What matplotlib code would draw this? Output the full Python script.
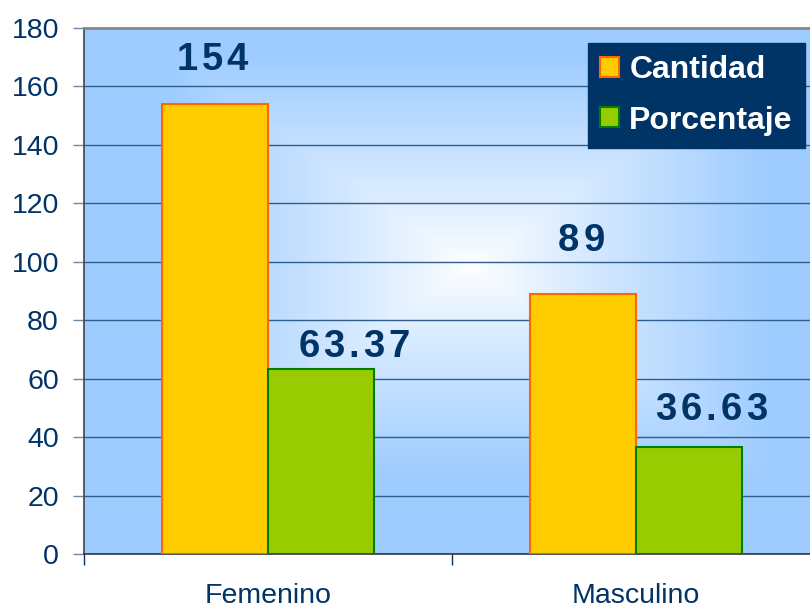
import numpy as np
import matplotlib
matplotlib.use("Agg")
import matplotlib.pyplot as plt
from matplotlib.patches import Patch
from matplotlib.font_manager import FontProperties, findfont
from matplotlib.ft2font import FT2Font

# ---- data ----
categories = ["Femenino", "Masculino"]
series_names = ["Cantidad", "Porcentaje"]
cantidad = [154, 89]
porcentaje = [63.37, 36.63]
label_cantidad = ["154", "89"]
label_porcentaje = ["63.37", "36.63"]
yticks = [0, 20, 40, 60, 80, 100, 120, 140, 160, 180]

# ---- style ----
NAVY = "#003366"
DPI = 100
fig = plt.figure(figsize=(8.10, 6.12), dpi=DPI)
fig.patch.set_facecolor("white")
ax = fig.add_axes([84/810, 58/612, 736/810, 526/612])

# background gradient (rectangular, from centre)
H, W = 526, 736
yy, xx = np.mgrid[0:H, 0:W]
cx, cy = 470 - 84, 265 - 28
rx, ry = 300.0, 210.0
t = np.maximum(np.abs(xx - cx) / rx, np.abs(yy - cy) / ry)
t = np.clip(t, 0, 1) ** 0.9
edge = np.array([158, 204, 255]) / 255.0
centre = np.array([1.0, 1.0, 1.0])
img = centre[None, None, :] * (1 - t[..., None]) + edge[None, None, :] * t[..., None]
ax.imshow(img, extent=(0, 1, 0, 1), transform=ax.transAxes, aspect="auto",
          zorder=0, interpolation="bilinear")

x = np.arange(len(categories))
w = 0.288
ax.bar(x - w/2, cantidad, w, color="#FFCC00", edgecolor="#FF6600", linewidth=1.5, zorder=3)
ax.bar(x + w/2, porcentaje, w, color="#99CC00", edgecolor="#008000", linewidth=1.5, zorder=3)

ax.set_xlim(-0.5, 1.5)
ax.set_ylim(0, 180)
ax.set_yticks(yticks)
ax.set_yticklabels([str(v) for v in yticks])
ax.yaxis.grid(True, color="#2F5E8E", linewidth=1.0, zorder=1)
ax.set_axisbelow(True)

# x ticks: major at category boundaries, labels at centres
ax.set_xticks([-0.5, 0.5, 1.5])
ax.set_xticklabels(["", "", ""])
ax.set_xticks(x, minor=True)
ax.set_xticklabels(categories, minor=True)
ax.tick_params(axis="x", which="major", length=8, width=1, color=NAVY, direction="out")
ax.tick_params(axis="x", which="minor", length=0, pad=21, labelsize=20.5, labelcolor=NAVY)
ax.tick_params(axis="y", length=8, width=1, color="#6A8AAA", pad=10, labelsize=20.5, labelcolor=NAVY)

for lab in ax.get_xticklabels(minor=True) + ax.get_yticklabels():
    lab.set_fontfamily("Liberation Sans")

ax.spines["top"].set_color("#888888")
ax.spines["top"].set_linewidth(2)
ax.spines["left"].set_color("#444444")
ax.spines["bottom"].set_color("#333344")
ax.spines["right"].set_visible(False)
for s in ("left", "bottom"):
    ax.spines[s].set_linewidth(1.2)

# tracked (letter-spaced) bold labels
lab_prop = FontProperties(family="Liberation Sans", weight="bold", size=27.5)
font = FT2Font(findfont(lab_prop))
font.set_size(27.5, DPI)

def advance(ch):
    g = font.load_char(ord(ch))
    return g.linearHoriAdvance / 65536.0

def tracked(xd, yd, s, track_px=4.0):
    advs = [advance(c) for c in s]
    total = sum(advs) + track_px * (len(s) - 1)
    pos = -total / 2
    for c, a in zip(s, advs):
        ax.annotate(c, xy=(xd, yd), xytext=(pos * 72 / DPI, 0), textcoords="offset points",
                    ha="left", va="center", fontproperties=lab_prop, color=NAVY,
                    zorder=5, annotation_clip=False)
        pos += a + track_px

# label offsets (style): (dx data, dy data)
off_c = [(-0.008, 15.0), (-0.005, 18.0)]
off_p = [(0.09, 7.5), (0.06, 12.5)]
for i in range(len(categories)):
    tracked(x[i] - w/2 + off_c[i][0], cantidad[i] + off_c[i][1], label_cantidad[i])
    tracked(x[i] + w/2 + off_p[i][0], porcentaje[i] + off_p[i][1], label_porcentaje[i])

# legend
handles = [Patch(facecolor="#FFCC00", edgecolor="#FF6600", linewidth=1.5),
           Patch(facecolor="#99CC00", edgecolor="#008000", linewidth=1.5)]
leg = fig.legend(handles, series_names, loc="upper right",
                 bbox_to_anchor=(805/810, 1 - 43/612), bbox_transform=fig.transFigure,
                 frameon=True, fancybox=False, framealpha=1, borderaxespad=0,
                 prop=FontProperties(family="Liberation Sans", weight="bold", size=23),
                 handlelength=0.6, handleheight=0.6, handletextpad=0.31,
                 labelspacing=0.64, borderpad=0.38)
leg.get_frame().set_facecolor(NAVY)
leg.get_frame().set_edgecolor(NAVY)
for txt in leg.get_texts():
    txt.set_color("white")

fig.savefig("out.png", dpi=DPI)
